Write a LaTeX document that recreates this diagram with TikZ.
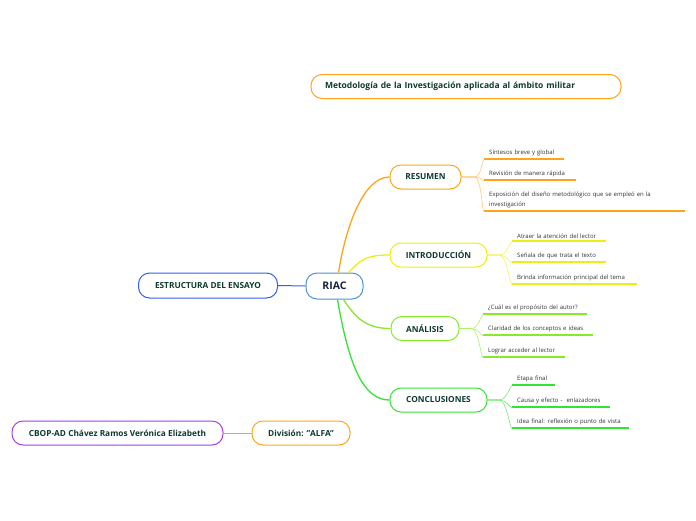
\documentclass[tikz,border=0pt]{standalone}
\usepackage{fontspec}
\setmainfont{Open Sans}
\begin{document}
\begin{tikzpicture}[x=1pt,y=-1pt,
  box/.style={draw, rounded corners=11pt, line width=1pt, fill=white, minimum height=24pt,
     font=\bfseries\fontsize{8.3}{10}\selectfont, text=labelgreen, inner xsep=10pt},
  leaf/.style={anchor=south west, inner xsep=5pt, inner ysep=2.5pt, align=left,
     font=\fontsize{6}{10.5}\selectfont, text=leafgray},
  uline/.style={line width=1.6pt},
  twig/.style={line width=0.6pt},
  bough/.style={line width=1.3pt}]
\definecolor{labelgreen}{HTML}{0E3B2E}
\definecolor{leafgray}{HTML}{333333}
\definecolor{corange}{HTML}{FFA31A}
\definecolor{cyellow}{HTML}{EEEE11}
\definecolor{clime}{HTML}{88E82A}
\definecolor{cgreen}{HTML}{33E533}
\definecolor{cblue}{HTML}{2F5FF0}
\definecolor{clightblue}{HTML}{4C93D6}
\definecolor{cpurple}{HTML}{A83CE8}
\definecolor{navytext}{HTML}{15243F}
\useasboundingbox (0,0) rectangle (696,520);

% title
\node[box, draw=corange, inner xsep=14pt, text width=282pt, align=left, font=\bfseries\fontsize{8.5}{10}\selectfont] (title) at (466,86.5) {Metodología de la Investigación aplicada al ámbito militar};

% central
\node[box, draw=clightblue, minimum width=57pt, minimum height=26pt, font=\bfseries\fontsize{10.5}{12}\selectfont, text=navytext] (riac) at (334.5,286) {RIAC};
\node[box, draw=cblue, minimum width=139pt, minimum height=25pt] (estr) at (208,285.5) {ESTRUCTURA DEL ENSAYO};
\draw[cblue, line width=1pt] (estr.east) -- (riac.west);

% branches
\node[box, draw=corange, minimum width=71pt] (res) at (425.5,177) {RESUMEN};
\node[box, draw=cyellow, minimum width=97pt] (intro) at (438.5,255) {INTRODUCCIÓN};
\node[box, draw=clime, minimum width=68pt] (anal) at (425,328.5) {ANÁLISIS};
\node[box, draw=cgreen, minimum width=97pt] (concl) at (438.5,400) {CONCLUSIONES};

\draw[bough, corange] ([xshift=4pt]riac.north) .. controls +(8,-50) and +(-25,0) .. (res.west);
\draw[bough, cyellow] ([xshift=14pt]riac.north) .. controls +(12,-12) and +(-25,0) .. (intro.west);
\draw[bough, clime] ([xshift=9pt]riac.south) .. controls +(12,18) and +(-25,0) .. (anal.west);
\draw[bough, cgreen] ([xshift=3pt]riac.south) .. controls +(12,70) and +(-25,0) .. (concl.west);

% RESUMEN leaves
\node[leaf, text width=70pt] (r1) at (484,159) {Síntesos breve y global};
\node[leaf, text width=82pt] (r2) at (484,180) {Revisión de manera rápida};
\node[leaf, text width=191pt] (r3) at (484,211) {Exposición del diseño metodológico que se empleó en la\\investigación};
\foreach \n in {r1,r2,r3} {
  \draw[uline, corange] (\n.south west) -- (\n.south east);
  \draw[twig, corange!60] (res.east) -- ++(13,0) .. controls +(7,0) and +(-2,0) .. ([yshift=-0.8pt]\n.south west);
}

% INTRODUCCION leaves
\node[leaf, text width=84pt] (i1) at (512,241) {Atraer la atención del lector};
\node[leaf, text width=84pt] (i2) at (512,262) {Señala de que trata el texto};
\node[leaf, text width=115pt] (i3) at (512,284) {Brinda información principal del tema};
\foreach \n in {i1,i2,i3} {
  \draw[uline, cyellow] (\n.south west) -- (\n.south east);
  \draw[twig, cyellow!70] (intro.east) -- ++(12,0) .. controls +(7,0) and +(-2,0) .. ([yshift=-0.8pt]\n.south west);
}

% ANALISIS leaves
\node[leaf, text width=94pt] (a1) at (483,314) {¿Cuál es el propósito del autor?};
\node[leaf, text width=100pt] (a2) at (483,335) {Claridad de los conceptos e ideas};
\node[leaf, text width=72pt] (a3) at (483,357) {Lograr acceder al lector};
\foreach \n in {a1,a2,a3} {
  \draw[uline, clime] (\n.south west) -- (\n.south east);
  \draw[twig, clime!70] (anal.east) -- ++(12,0) .. controls +(7,0) and +(-2,0) .. ([yshift=-0.8pt]\n.south west);
}

% CONCLUSIONES leaves
\node[leaf, text width=33pt] (c1) at (512,385) {Etapa final};
\node[leaf, text width=88pt] (c2) at (512,407) {Causa y efecto -\ \ enlazadores};
\node[leaf, text width=107pt] (c3) at (512,428) {Idea final: reflexión o punto de vista};
\foreach \n in {c1,c2,c3} {
  \draw[uline, cgreen] (\n.south west) -- (\n.south east);
  \draw[twig, cgreen!70] (concl.east) -- ++(12,0) .. controls +(7,0) and +(-2,0) .. ([yshift=-0.8pt]\n.south west);
}

% bottom
\node[box, draw=cpurple, minimum width=211pt] (cbop) at (117.5,433) {CBOP-AD Chávez Ramos Verónica Elizabeth};
\node[box, draw=corange, minimum width=98pt] (div) at (301,433) {División: "ALFA"};
\draw[corange, line width=1pt] (cbop.east) -- (div.west);
\end{tikzpicture}
\end{document}
